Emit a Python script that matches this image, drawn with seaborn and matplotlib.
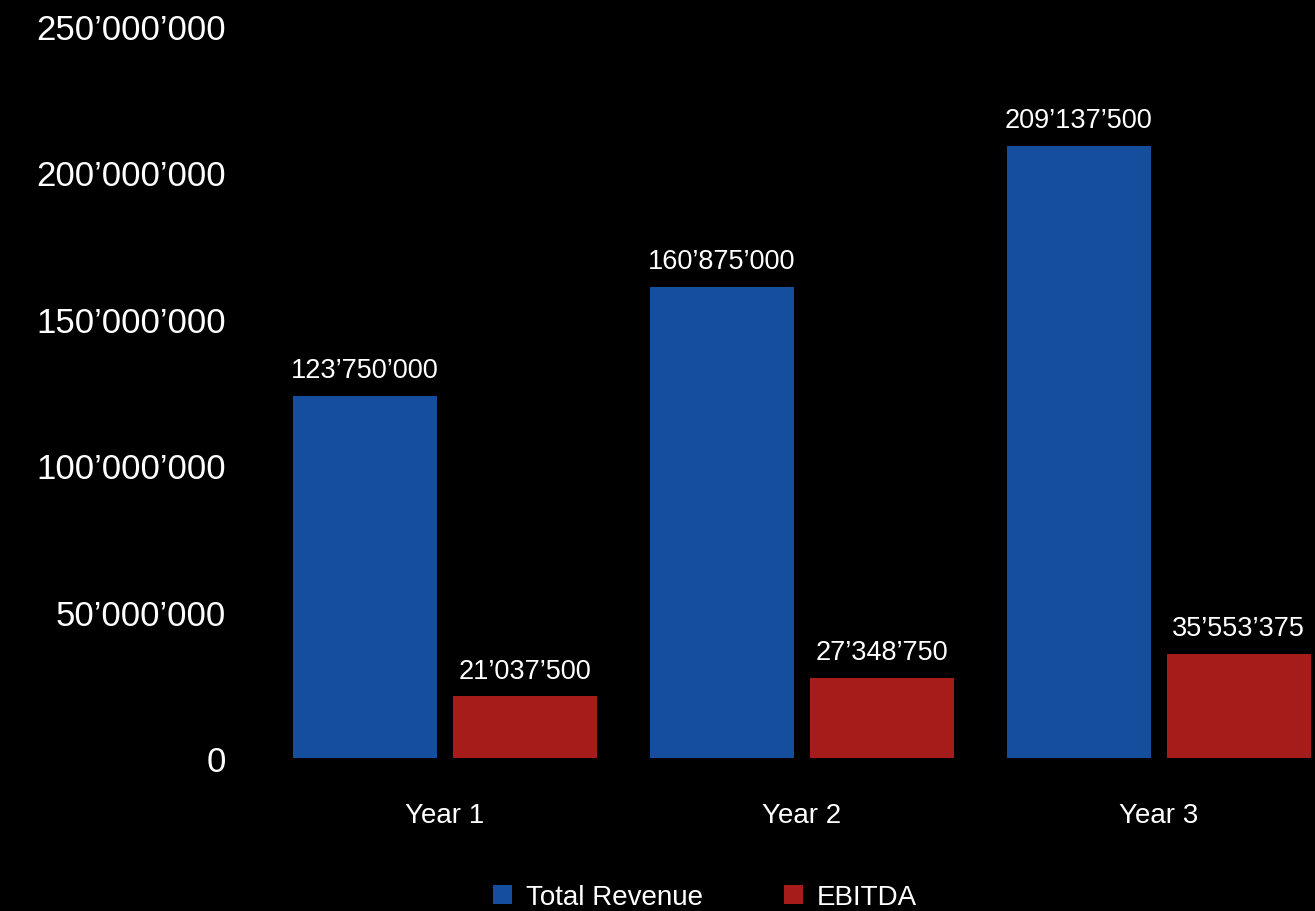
import matplotlib
matplotlib.use("Agg")
import matplotlib.pyplot as plt
import seaborn as sns
import pandas as pd

years = ["Year 1", "Year 2", "Year 3"]
series = ["Total Revenue", "EBITDA"]
total_revenue = [123750000, 160875000, 209137500]
ebitda = [21037500, 27348750, 35553375]
yticks = [0, 50000000, 100000000, 150000000, 200000000, 250000000]
colors = {"Total Revenue": "#164e9e", "EBITDA": "#a51c1a"}

sns.set_theme(style="dark")
plt.rcParams["font.family"] = ["Liberation Sans", "DejaVu Sans"]

df = pd.DataFrame({
    "Year": years * 2,
    "Value": total_revenue + ebitda,
    "Series": [series[0]] * 3 + [series[1]] * 3,
})

def fmt(v):
    return f"{v:,.0f}".replace(",", "\u2019")

fig = plt.figure(figsize=(13.15, 9.12), dpi=100, facecolor="black")
ax = fig.add_axes([259 / 1315, 1 - 759 / 912, (1315 - 259) / 1315, (759 - 27) / 912])
ax.set_facecolor("black")

sns.barplot(data=df, x="Year", y="Value", hue="Series", palette=colors,
            width=0.896, gap=0.1, saturation=1, linewidth=0, edgecolor="none",
            ax=ax, legend=True)

for c in ax.containers:
    ax.bar_label(c, labels=[fmt(v) for v in c.datavalues], padding=9,
                 color="white", fontsize=19.5)

ax.set_xlim(-0.52, 2.438)
ax.set_ylim(0, 250000000)
ax.set_yticks(yticks)
ax.set_yticklabels([fmt(v) for v in yticks])
ax.tick_params(axis="y", colors="white", labelsize=25, length=0, pad=24)
ax.tick_params(axis="x", colors="white", labelsize=20, length=0, pad=32)
ax.set_xlabel("")
ax.set_ylabel("")
ax.grid(False)
for s in ax.spines.values():
    s.set_visible(False)

handles, labels = ax.get_legend_handles_labels()
ax.legend_.remove()
leg = fig.legend(handles, labels, loc="center", bbox_to_anchor=(705 / 1315, 14 / 912),
                 ncol=2, frameon=False, fontsize=20, handlelength=0.7, handleheight=0.7,
                 handletextpad=0.5, columnspacing=2.9, labelcolor="white")

fig.savefig("out.png", dpi=100, facecolor="black")
